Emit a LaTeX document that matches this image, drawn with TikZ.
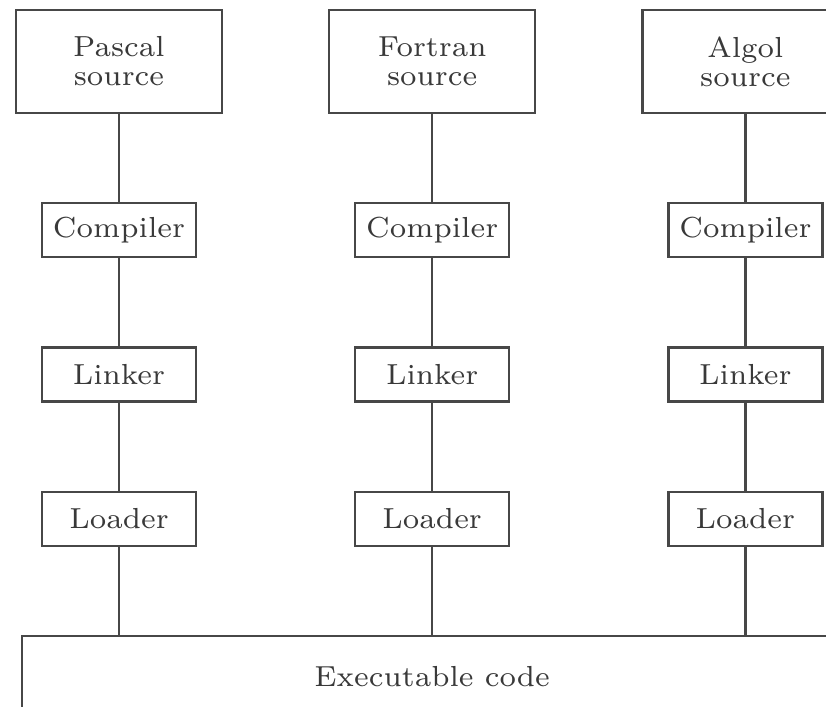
\documentclass[tikz,border=0pt]{standalone}
\usepackage{fontspec}
\setmainfont{lmroman7-regular.otf}
\usetikzlibrary{positioning}

\definecolor{ink}{gray}{0.28}

\begin{document}
\begin{tikzpicture}[
    node distance=44pt,
    every node/.style={text=ink!80!black, font=\fontsize{14.5}{14.5}\selectfont},
    srcbox/.style={rectangle, draw=ink, line width=1.1pt, minimum width=103pt, minimum height=51.5pt, align=center},
    stagebox/.style={rectangle, draw=ink, line width=1.1pt, minimum width=77pt, minimum height=27pt},
    execbox/.style={rectangle, draw=ink, line width=1.1pt, minimum width=410pt, minimum height=41pt},
    link/.style={draw=ink, line width=1.1pt}
]

% visible part of the page
\clip (-59.5pt,30.75pt) rectangle (353.5pt,-322.75pt);

% Source programs
\node[srcbox] (pascal) at (0,0) {Pascal \\ source};
\node[srcbox, right=52.5pt of pascal] (fortran) {Fortran \\ source};
\node[srcbox, right=52.5pt of fortran] (algol) {Algol \\ source};

% Compilers
\node[stagebox, below=of pascal] (pascalcomp) {Compiler};
\node[stagebox, below=of fortran] (fortrancomp) {Compiler};
\node[stagebox, below=of algol] (algolcomp) {Compiler};

% Linkers
\node[stagebox, below=of pascalcomp] (pascallink) {Linker};
\node[stagebox, below=of fortrancomp] (fortranlink) {Linker};
\node[stagebox, below=of algolcomp] (algollink) {Linker};

% Loaders
\node[stagebox, below=of pascallink] (pascalload) {Loader};
\node[stagebox, below=of fortranlink] (fortranload) {Loader};
\node[stagebox, below=of algollink] (algolload) {Loader};

% Common output
\node[execbox, below=of fortranload] (exec) {Executable code};

% Connections
\draw[link] (pascal) -- (pascalcomp);
\draw[link] (pascalcomp) -- (pascallink);
\draw[link] (pascallink) -- (pascalload);
\draw[link] (pascalload) -- (pascalload |- exec.north);

\draw[link] (fortran) -- (fortrancomp);
\draw[link] (fortrancomp) -- (fortranlink);
\draw[link] (fortranlink) -- (fortranload);
\draw[link] (fortranload) -- (exec);

\draw[link] (algol) -- (algolcomp);
\draw[link] (algolcomp) -- (algollink);
\draw[link] (algollink) -- (algolload);
\draw[link] (algolload) -- (algolload |- exec.north);

\end{tikzpicture}
\end{document}
